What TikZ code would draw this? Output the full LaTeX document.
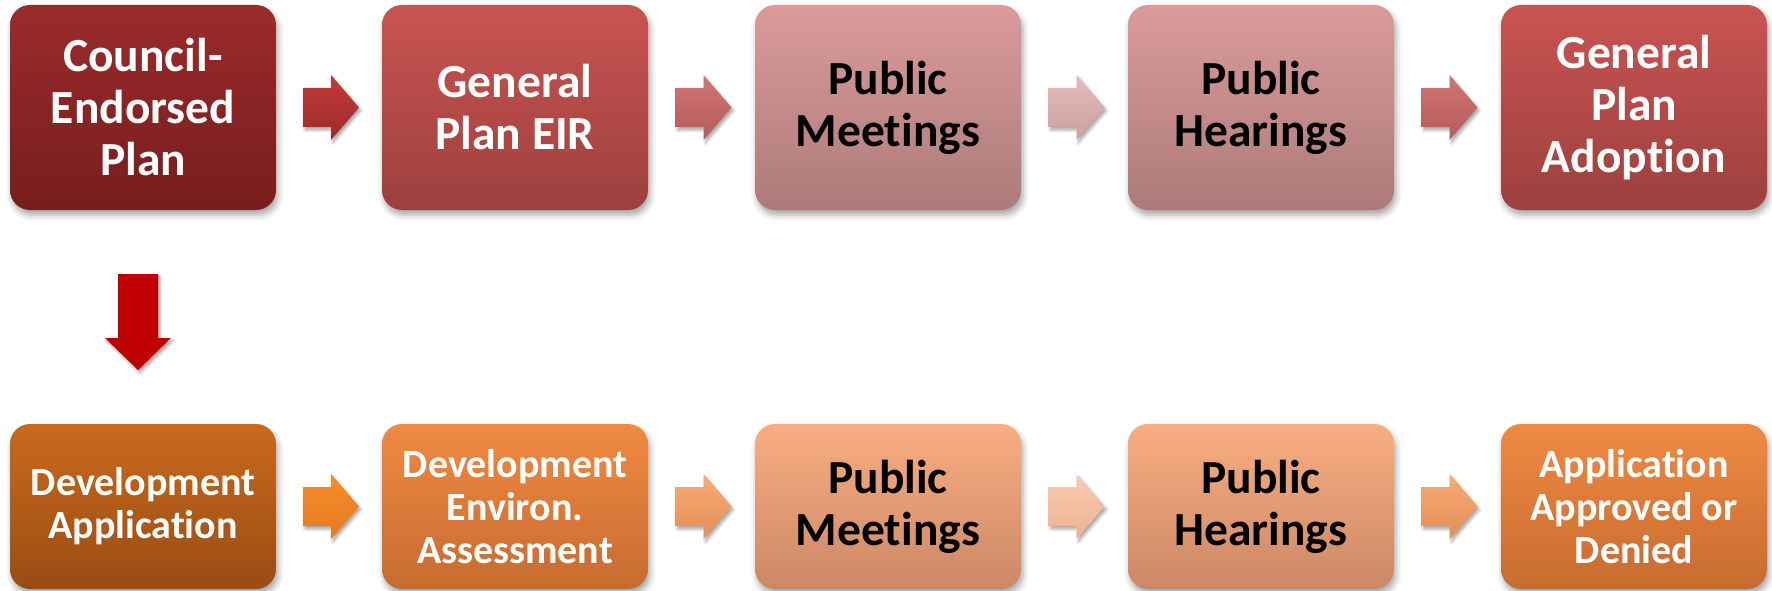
\documentclass[tikz,border=0pt]{standalone}
\usepackage{fontspec}
\setmainfont{Carlito}[Ligatures=NoCommon]
\usetikzlibrary{calc,shadows.blur}

% red plan track
\definecolor{cepTop}{HTML}{9B2B2B}
\definecolor{cepBot}{HTML}{771D1D}
\definecolor{redTop}{HTML}{C95451}
\definecolor{redBot}{HTML}{9D403E}
\definecolor{pinkTop}{HTML}{DA9B9A}
\definecolor{pinkBot}{HTML}{AC7B79}
% orange application track
\definecolor{devTop}{HTML}{C96A1E}
\definecolor{devBot}{HTML}{9A4C13}
\definecolor{orgTop}{HTML}{F08A42}
\definecolor{orgBot}{HTML}{C66B30}
\definecolor{peachTop}{HTML}{F9AD81}
\definecolor{peachBot}{HTML}{CB8866}
% arrows
\definecolor{arrRedTop}{HTML}{C13B37}
\definecolor{arrRedBot}{HTML}{9F2A2A}
\definecolor{arrRoseTop}{HTML}{D07675}
\definecolor{arrRoseBot}{HTML}{B65A5A}
\definecolor{arrPinkTop}{HTML}{E4BABA}
\definecolor{arrPinkBot}{HTML}{CDA0A0}
\definecolor{arrOrgTop}{HTML}{F88C28}
\definecolor{arrOrgBot}{HTML}{E47A24}
\definecolor{arrApriTop}{HTML}{F8AB73}
\definecolor{arrApriBot}{HTML}{E38F58}
\definecolor{arrPeachTop}{HTML}{F8CCB4}
\definecolor{arrPeachBot}{HTML}{EEB08F}
\definecolor{downRed}{HTML}{C00000}

% block arrow pointing right, centred on #1
\newcommand{\rightblock}[3]{%
  \shade[top color=#2,bottom color=#3,arrowshadow,shift={(#1)}]
    (-28,-19.5) -- (0,-19.5) -- (0,-32.5) -- (28,0) -- (0,32.5)
    -- (0,19.5) -- (-28,19.5) -- cycle;
}

\begin{document}
\begin{tikzpicture}[x=1pt,y=-1pt,
    box/.style={rounded corners=20pt,minimum width=266pt,inner sep=0pt,
      align=center,font=\bfseries\fontsize{47.5}{52}\selectfont,
      blur shadow={shadow xshift=2pt,shadow yshift=-5pt,shadow blur radius=6pt,shadow opacity=35}},
    tall/.style={box,minimum height=205pt},
    short/.style={box,minimum height=165pt},
    small/.style={font=\bfseries\fontsize{40}{43}\selectfont},
    arrowshadow/.style={blur shadow={shadow xshift=2pt,shadow yshift=-3pt,shadow blur radius=3pt,shadow opacity=35}}]
  \useasboundingbox (0,0) rectangle (1772,591);

  % plan track
  \node[tall,top color=cepTop,bottom color=cepBot,text=white] (cep) at (143,107.5) {Council-\\Endorsed\\Plan};
  \node[tall,top color=redTop,bottom color=redBot,text=white] (eir) at (515,107.5) {General\\Plan EIR};
  \node[tall,top color=pinkTop,bottom color=pinkBot] (pubmtg) at (888,107.5) {Public\\Meetings};
  \node[tall,top color=pinkTop,bottom color=pinkBot] (pubhrg) at (1261,107.5) {Public\\Hearings};
  \node[tall,top color=redTop,bottom color=redBot,text=white] (adopt) at (1634,107.5) {General\\Plan\\Adoption};

  % application track
  \node[short,small,top color=devTop,bottom color=devBot,text=white] (devapp) at (143,506.5) {Development\\Application};
  \node[short,small,top color=orgTop,bottom color=orgBot,text=white] (devea) at (515,506.5) {Development\\Environ.\\Assessment};
  \node[short,top color=peachTop,bottom color=peachBot] (pubmtgb) at (888,506.5) {Public\\Meetings};
  \node[short,top color=peachTop,bottom color=peachBot] (pubhrgb) at (1261,506.5) {Public\\Hearings};
  \node[short,small,top color=orgTop,bottom color=orgBot,text=white] (decision) at (1634,506.5) {Application\\Approved or\\Denied};

  % arrows between the boxes
  \coordinate (r1) at ($(cep.east)!0.5!(eir.west)+(2,0)$);
  \coordinate (r2) at ($(eir.east)!0.5!(pubmtg.west)+(2,0)$);
  \coordinate (r3) at ($(pubmtg.east)!0.5!(pubhrg.west)+(2,0)$);
  \coordinate (r4) at ($(pubhrg.east)!0.5!(adopt.west)+(2,0)$);
  \rightblock{r1}{arrRedTop}{arrRedBot}
  \rightblock{r2}{arrRoseTop}{arrRoseBot}
  \rightblock{r3}{arrPinkTop}{arrPinkBot}
  \rightblock{r4}{arrRoseTop}{arrRoseBot}

  \coordinate (o1) at ($(devapp.east)!0.5!(devea.west)+(2,0)$);
  \coordinate (o2) at ($(devea.east)!0.5!(pubmtgb.west)+(2,0)$);
  \coordinate (o3) at ($(pubmtgb.east)!0.5!(pubhrgb.west)+(2,0)$);
  \coordinate (o4) at ($(pubhrgb.east)!0.5!(decision.west)+(2,0)$);
  \rightblock{o1}{arrOrgTop}{arrOrgBot}
  \rightblock{o2}{arrApriTop}{arrApriBot}
  \rightblock{o3}{arrPeachTop}{arrPeachBot}
  \rightblock{o4}{arrApriTop}{arrApriBot}

  % plan feeds the application track
  \coordinate (dn) at ($(cep.south)!0.5!(devapp.north)+(-5,5)$);
  \fill[downRed,arrowshadow,shift={(dn)}]
    (-20,-48) -- (20,-48) -- (20,16) -- (33,16) -- (0,48) -- (-33,16) -- (-20,16) -- cycle;
\end{tikzpicture}
\end{document}
